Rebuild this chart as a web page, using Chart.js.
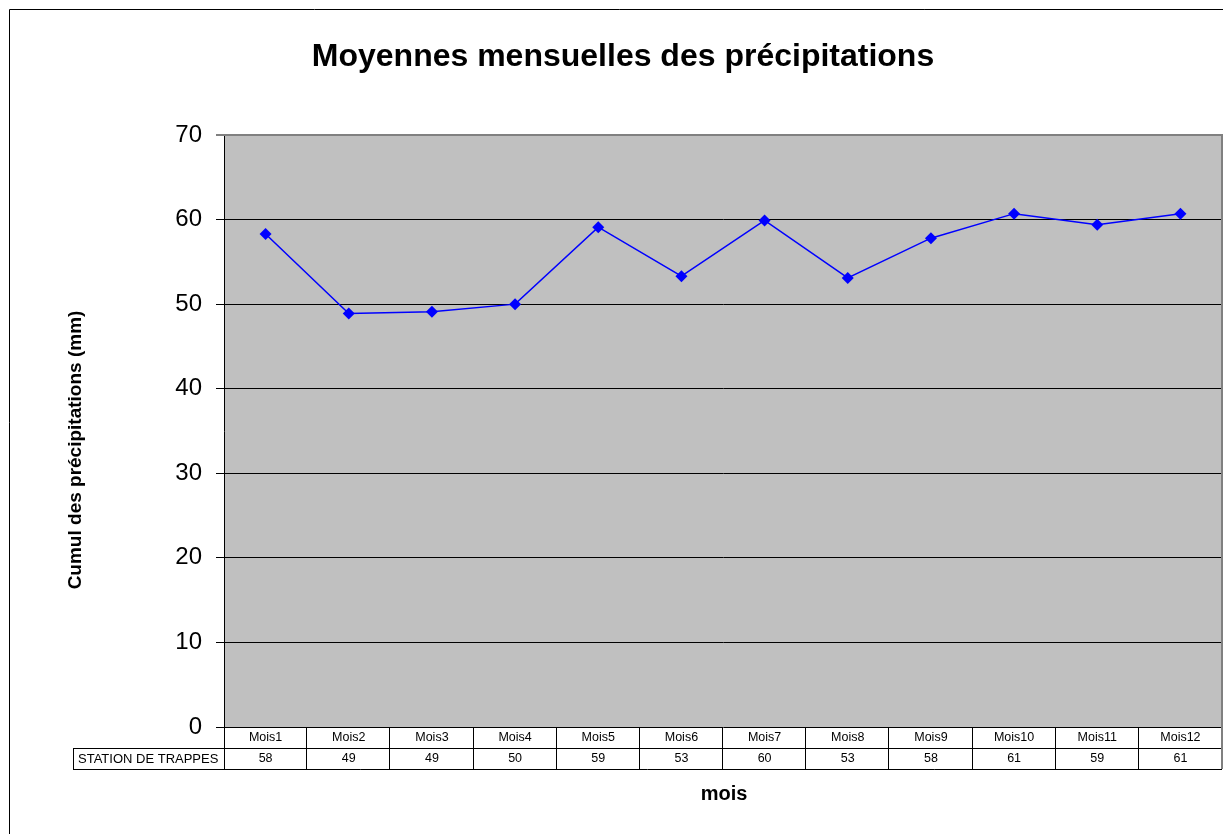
<!DOCTYPE html>
<html>
<head>
<meta charset="utf-8">
<script src="https://cdn.jsdelivr.net/npm/chart.js@4.4.1/dist/chart.umd.min.js"></script>
<style>
html,body{margin:0;padding:0;background:#fff;overflow:hidden;}
canvas{display:block;}
</style>
</head>
<body>
<canvas id="c" width="1228" height="834"></canvas>
<script>
const categories = ['Mois1','Mois2','Mois3','Mois4','Mois5','Mois6','Mois7','Mois8','Mois9','Mois10','Mois11','Mois12'];
const seriesName = 'STATION DE TRAPPES';
const values = [58.3, 48.9, 49.1, 50.0, 59.1, 53.3, 59.9, 53.1, 57.8, 60.7, 59.4, 60.7];
const tableValues = ['58','49','49','50','59','53','60','53','58','61','59','61'];
const chartTitle = 'Moyennes mensuelles des précipitations';
const yTitle = 'Cumul des précipitations (mm)';
const xTitle = 'mois';

const FONT = '"Liberation Sans", Arial, sans-serif';

function decorAfterDraw(chart) {
  const ctx = chart.ctx;
  const a = chart.chartArea;
  const xs = chart.scales.x;
  ctx.save();
  // outer border
  ctx.strokeStyle = '#000';
  ctx.lineWidth = 1;
  ctx.beginPath();
  ctx.moveTo(9.5, 840);
  ctx.lineTo(9.5, 9.5);
  ctx.lineTo(1240, 9.5);
  ctx.stroke();
  // plot border gray top/right
  ctx.strokeStyle = '#808080';
  ctx.lineWidth = 2;
  ctx.beginPath();
  ctx.moveTo(a.left - 8, a.top);
  ctx.lineTo(a.right, a.top);
  ctx.lineTo(a.right, a.bottom);
  ctx.stroke();
  // title
  ctx.fillStyle = '#000';
  ctx.textAlign = 'center';
  ctx.textBaseline = 'middle';
  ctx.font = 'bold 32px ' + FONT;
  ctx.fillText(chartTitle, 623, 57);
  // x title
  ctx.font = 'bold 20px ' + FONT;
  ctx.fillText(xTitle, 724, 794);
  // y title
  ctx.save();
  ctx.translate(76, 450);
  ctx.rotate(-Math.PI / 2);
  ctx.font = 'bold 19px ' + FONT;
  ctx.fillText(yTitle, 0, 0);
  ctx.restore();
  // data table
  const top = a.bottom, mid = a.bottom + 21, bot = a.bottom + 42;
  const half = (xs.getPixelForValue(1) - xs.getPixelForValue(0)) / 2;
  ctx.strokeStyle = '#000';
  ctx.lineWidth = 1;
  ctx.beginPath();
  ctx.moveTo(a.left, mid + 0.5); ctx.lineTo(a.right, mid + 0.5);
  ctx.moveTo(73, mid + 0.5); ctx.lineTo(a.left, mid + 0.5);
  ctx.moveTo(73, bot + 0.5); ctx.lineTo(a.right, bot + 0.5);
  ctx.moveTo(73.5, mid); ctx.lineTo(73.5, bot);
  ctx.moveTo(a.left + 0.5, top); ctx.lineTo(a.left + 0.5, bot);
  for (let i = 0; i < categories.length - 1; i++) {
    const xr = Math.round(xs.getPixelForValue(i) + half) - 0.5;
    ctx.moveTo(xr, top); ctx.lineTo(xr, bot);
  }
  ctx.stroke();
  ctx.strokeStyle = '#808080';
  ctx.lineWidth = 2;
  ctx.beginPath();
  ctx.moveTo(a.right, top); ctx.lineTo(a.right, bot);
  ctx.stroke();
  ctx.font = '12.5px ' + FONT;
  ctx.fillStyle = '#000';
  ctx.textAlign = 'center';
  for (let i = 0; i < categories.length; i++) {
    const xc = xs.getPixelForValue(i);
    ctx.fillText(categories[i], xc, top + 11);
    ctx.fillText(tableValues[i], xc, mid + 11);
  }
  ctx.textAlign = 'left';
  ctx.font = '13px ' + FONT;
  ctx.fillText(seriesName, 78, mid + 11);
  ctx.restore();
}

new Chart(document.getElementById('c'), {
  type: 'line',
  data: {
    labels: categories,
    datasets: [{
      label: seriesName,
      data: values,
      borderColor: '#0000ff',
      backgroundColor: '#0000ff',
      borderWidth: 1.5,
      pointStyle: 'rectRot',
      pointRadius: 6,
      pointHoverRadius: 6,
      pointBorderWidth: 0,
      tension: 0,
      fill: false
    }]
  },
  options: {
    responsive: false,
    animation: false,
    devicePixelRatio: 1,
    layout: { padding: { left: 0, top: 135, right: 0, bottom: 0 } },
    plugins: {
      legend: { display: false },
      title: { display: false },
      tooltip: { enabled: false }
    },
    scales: {
      x: {
        type: 'category',
        offset: true,
        ticks: { display: false },
        grid: { display: false, drawTicks: false },
        border: { display: false },
        afterFit(s) { s.height = 107; }
      },
      y: {
        min: 0,
        max: 70,
        ticks: {
          stepSize: 10,
          color: '#000',
          padding: 14,
          font: { family: FONT, size: 24 }
        },
        grid: {
          color: '#000',
          lineWidth: 1,
          tickLength: 8,
          tickColor: '#000',
          drawTicks: true
        },
        border: { display: true, color: '#000', width: 1 },
        afterFit(s) { s.width = 224; }
      }
    }
  },
  plugins: [{
    id: 'bg',
    beforeDraw(chart) {
      const ctx = chart.ctx, a = chart.chartArea;
      ctx.save();
      ctx.fillStyle = '#fff';
      ctx.fillRect(0, 0, chart.width, chart.height);
      ctx.fillStyle = '#c0c0c0';
      ctx.fillRect(a.left, a.top, a.right - a.left, a.bottom - a.top);
      ctx.restore();
    }
  }, {id: 'decor', afterDraw: decorAfterDraw}]
});
</script>
</body>
</html>
